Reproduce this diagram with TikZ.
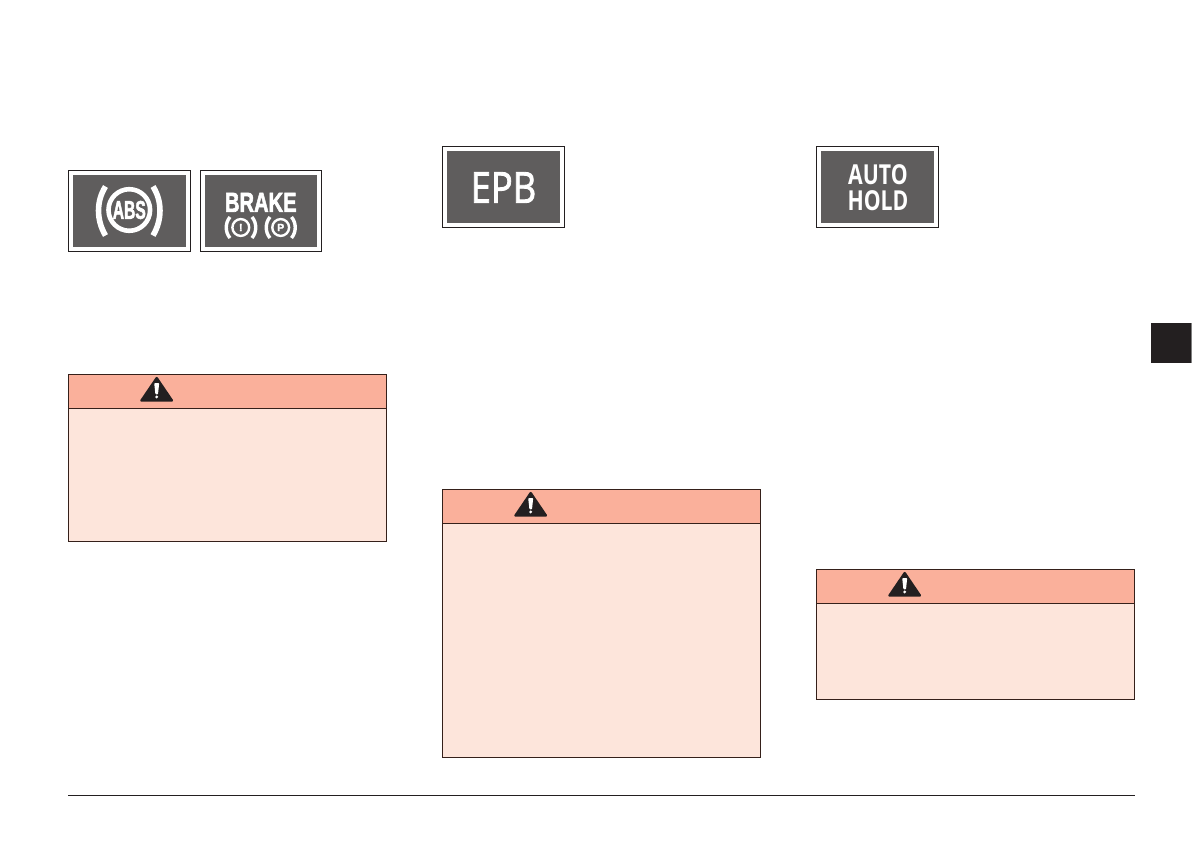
\documentclass[tikz,border=0pt]{standalone}
\usepackage{fontspec}
\setmainfont{Liberation Sans}
\newfontfamily\heavyfont[UprightFont=* Bold,FakeBold=2.5]{Liberation Sans}
\newfontfamily\epbfont[FakeBold=2.0]{Open Sans}
\newfontfamily\holdfont[UprightFont=* Bold]{Open Sans}
\definecolor{icongrey}{HTML}{5F5D5D}
\definecolor{headpink}{HTML}{FAB09B}
\definecolor{bodypink}{HTML}{FDE5DB}
\definecolor{warnedge}{HTML}{35201A}
\definecolor{inkblack}{HTML}{231F20}
\tikzset{
  iconframe/.style={draw=inkblack,line width=0.9pt,fill=white},
  iconfill/.style={fill=icongrey},
  icontext/.style={text=white,inner sep=0pt},
  whitearc/.style={draw=white,line cap=butt},
  warnbody/.style={draw=warnedge,line width=0.9pt,fill=bodypink},
  warnhead/.style={draw=warnedge,line width=0.9pt,fill=headpink},
  warntri/.style={fill=inkblack,draw=inkblack,line width=2.4pt,line join=round},
}
\newcommand{\warnbox}[4]{% left, top, header bottom, bottom
  \path[warnbody] (#1,#2) rectangle (#1+318,#4);
  \path[warnhead] (#1,#2) rectangle (#1+318,#3);
  \path[warntri] (#1+88.2,#2+3.6) -- (#1+103.4,#2+26) -- (#1+73,#2+26) -- cycle;
  \fill[white,rounded corners=0.8pt] (#1+85.7,#2+8.5) -- (#1+90.7,#2+8.5) -- (#1+89.5,#2+19.8) -- (#1+86.9,#2+19.8) -- cycle;
  \fill[white] (#1+88.2,#2+22.4) circle (1.6);
}
\begin{document}
\begin{tikzpicture}[x=1pt,y=-1pt]
\useasboundingbox (0,0) rectangle (1192,851);
% ABS
\path[iconframe] (68.5,170) rectangle (190,251);
\path[iconfill] (72.7,175) rectangle (186,246.7);
\draw[white,line width=4.6pt] (129.3,210) circle (20.8);
\node[icontext] (abs) at (129.3,210) {\heavyfont\scalebox{0.8}[1.32]{\fontsize{19.5}{19.5}\selectfont ABS}};
\draw[whitearc,line width=5.6pt] (105.5,186.5) .. controls (96.2,201) and (96.2,220) .. (105.5,235.5);
\draw[whitearc,line width=5.6pt] (153,186.5) .. controls (162.3,201) and (162.3,220) .. (153,235.5);
% BRAKE
\path[iconframe] (200.7,170) rectangle (321.7,251);
\path[iconfill] (205,175) rectangle (317,246.7);
\node[icontext] (brake) at (260.8,202.4) {\heavyfont\scalebox{0.84}[1.15]{\fontsize{24}{24}\selectfont BRAKE}};
\draw[white,line width=2.4pt] (240.8,227.5) circle (8.4);
\node[icontext] (excl) at (240.8,227.5) {\heavyfont\fontsize{10.5}{10.5}\selectfont !};
\draw[white,line width=2.4pt] (280.7,227.5) circle (8.4);
\node[icontext] (park) at (280.7,227.5) {\heavyfont\fontsize{10.5}{10.5}\selectfont P};
\draw[whitearc,line width=3.4pt] (230,217) .. controls (225,223) and (225,232) .. (230,238);
\draw[whitearc,line width=3.4pt] (252,217) .. controls (257,223) and (257,232) .. (252,238);
\draw[whitearc,line width=3.4pt] (270,217) .. controls (265,223) and (265,232) .. (270,238);
\draw[whitearc,line width=3.4pt] (291.5,217) .. controls (296.5,223) and (296.5,232) .. (291.5,238);
% EPB
\path[iconframe] (442.7,146) rectangle (564.3,227.3);
\path[iconfill] (447,151) rectangle (560,222.7);
\node[text=white,inner sep=0pt] (epb) at (503.5,187.5) {\epbfont\scalebox{0.93}[1.1]{\fontsize{39}{39}\selectfont EPB}};
% AUTO HOLD
\path[iconframe] (816.7,146) rectangle (938.3,227.3);
\path[iconfill] (821,151) rectangle (934,222.7);
\node[text=white,inner sep=0pt] (auto) at (878,175) {\holdfont\scalebox{0.85}[1.1]{\fontsize{25}{25}\selectfont AUTO}};
\node[text=white,inner sep=0pt] (hold) at (878,201) {\holdfont\scalebox{0.85}[1.1]{\fontsize{25}{25}\selectfont HOLD}};
% warnings
\warnbox{68.5}{374.5}{408}{541}
\warnbox{442.5}{489.5}{523}{757}
\warnbox{816.5}{569.5}{603}{699}
% tab
\fill[inkblack] (1151,323) rectangle (1190.5,362.7);
\fill[gray] (1190.5,323) rectangle (1192,362.7);
% rule
\draw[inkblack,line width=0.9pt] (68,795.5) -- (1134.5,795.5);
\end{tikzpicture}
\end{document}
